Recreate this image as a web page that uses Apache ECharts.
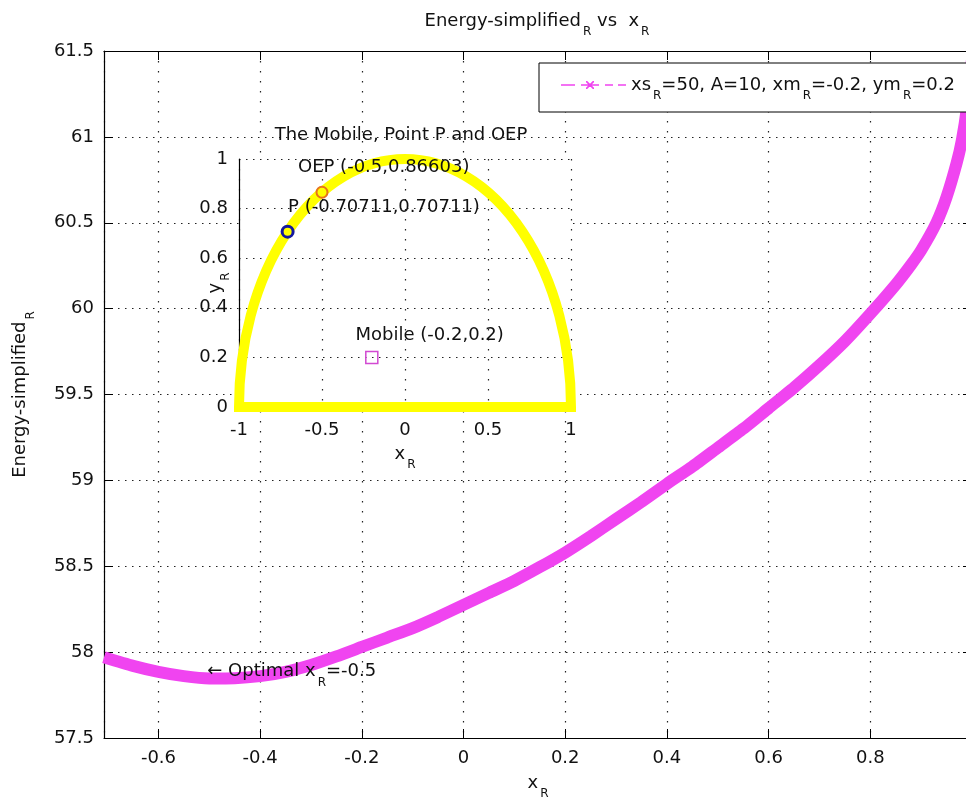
<!DOCTYPE html>
<html>
<head>
<meta charset="utf-8">
<script src="https://cdn.jsdelivr.net/npm/echarts@6/dist/echarts.min.js"></script>
<style>
  html, body { margin: 0; padding: 0; background: #fff; }
  #chart { width: 966px; height: 799px; }
</style>
</head>
<body>
<div id="chart"></div>
<script>
// Simplified energy along the upper half of the unit circle, as a function of x_R
const xR = [-0.7071, -0.65, -0.6, -0.55, -0.5, -0.45, -0.4, -0.35, -0.3, -0.25,
            -0.2, -0.15, -0.1, -0.05, 0, 0.05, 0.1, 0.15, 0.2, 0.25,
            0.3, 0.35, 0.4, 0.45, 0.5, 0.55, 0.6, 0.65, 0.7, 0.75,
            0.8, 0.85, 0.88, 0.9, 0.93, 0.95, 0.97, 0.98, 0.99, 1.0];
const energyR = [57.97, 57.92, 57.885, 57.86, 57.847, 57.848, 57.86, 57.885, 57.925, 57.975,
                 58.03, 58.085, 58.14, 58.205, 58.275, 58.345, 58.415, 58.495, 58.58, 58.675,
                 58.775, 58.875, 58.98, 59.08, 59.19, 59.30, 59.42, 59.54, 59.67, 59.81,
                 59.97, 60.14, 60.255, 60.34, 60.5, 60.65, 60.85, 60.98, 61.17, 61.45];

// Optimum of the curve
const optimalX = -0.5;
const optimalE = 57.847;

// Parameters shown in the legend
const xsR = 50;
const amplitude = 10;

// Inset: the semicircle, the mobile, point P and the OEP
const circleCenter = [0, 0];
const circleRadius = 1;
const pointP = [-0.70711, 0.70711];
const pointOEP = [-0.5, 0.86603];
const mobile = [-0.2, 0.2];

// Axis ranges and tick steps
const xRange = [-0.7071, 1];
const xStep = 0.2;
const yRange = [57.5, 61.5];
const yStep = 0.5;
const insetXRange = [-1, 1];
const insetXStep = 0.5;
const insetYRange = [0, 1];
const insetYStep = 0.2;

const FONT = 'DejaVu Sans';
const INK = '#111';
const MAGENTA = '#f044f0';

const rich = {
  t: { fontFamily: FONT, fontSize: 18, lineHeight: 20, color: INK, fontWeight: 'normal' },
  s: { fontFamily: FONT, fontSize: 12, lineHeight: 12, color: INK, fontWeight: 'normal', padding: [22, 0, 0, 2] }
};

const dotsH = { color: '#222', width: 1.2, type: [1.5, 5.5] };
const dotsV = { color: '#222', width: 1.2, type: [1.5, 8.5] };
const tickStyle = { show: true, inside: true, length: 9, lineStyle: { color: '#000', width: 1 } };
const lineStyleAxis = { show: true, onZero: false, lineStyle: { color: '#000', width: 1.2 } };
const labelStyle = { fontFamily: FONT, fontSize: 18, color: INK, lineHeight: 20 };

// Text placed just right of a marker, shifted by a pixel offset
function markerLabel(text, offset, useRich) {
  const l = {
    show: true, position: 'right', distance: 0, align: 'left', verticalAlign: 'middle',
    offset, formatter: () => text,
    fontFamily: FONT, fontSize: 18, color: INK, opacity: 1,
    textBorderWidth: 0, textBorderColor: 'transparent'
  };
  if (useRich) l.rich = rich;
  return l;
}

const chart = echarts.init(document.getElementById('chart'), null, { renderer: 'canvas' });

const option = {
  backgroundColor: '#fff',
  animation: false,
  title: [
    {
      text: '{t|Energy-simplified}{s|R}{t| vs  x}{s|R}',
      left: 537, top: 11, padding: 0, textAlign: 'center',
      textStyle: { rich, fontWeight: 'normal' }
    },
    {
      text: 'The Mobile, Point P and OEP',
      left: 401, top: 125, padding: 0, textAlign: 'center',
      textStyle: { fontFamily: FONT, fontSize: 18, lineHeight: 20, color: INK, fontWeight: 'normal' }
    }
  ],
  legend: {
    data: ['energy'],
    left: 539, top: 63,
    orient: 'horizontal',
    padding: [5, 16, 10, 22],
    borderColor: '#000', borderWidth: 1, backgroundColor: '#fff',
    itemWidth: 65, itemHeight: 16,
    icon: 'path://M0 7.3L14 7.3L14 8.7L0 8.7Z' +
          'M20 7.3L38 7.3L38 8.7L20 8.7Z' +
          'M25 4L26.2 4L33 10.8L33 12L31.8 12L25 5.2Z' +
          'M33 4L33 5.2L26.2 12L25 12L25 10.8L31.8 4Z' +
          'M44 7.3L52 7.3L52 8.7L44 8.7Z' +
          'M57 7.3L65 7.3L65 8.7L57 8.7Z',
    formatter: () => `{t|xs}{s|R}{t|=${xsR}, A=${amplitude}, xm}{s|R}{t|=${mobile[0]}, ym}{s|R}{t|=${mobile[1]}}`,
    textStyle: { rich },
    selectedMode: false,
    z: 10
  },
  grid: [
    { left: 104, top: 51, width: 868, height: 687, show: false, outerBoundsMode: 'none' },
    { left: 239, top: 159, width: 332, height: 248, show: true, backgroundColor: '#fff',
      borderWidth: 0, borderColor: 'transparent', z: 1, outerBoundsMode: 'none' }
  ],
  xAxis: [
    {
      type: 'value', gridIndex: 0, position: 'bottom',
      min: xRange[0], max: xRange[1], minInterval: xStep, maxInterval: xStep, splitNumber: 8,
      axisLine: lineStyleAxis, axisTick: tickStyle,
      axisLabel: Object.assign({ margin: 10, showMinLabel: false, showMaxLabel: false }, labelStyle),
      splitLine: { show: true, lineStyle: dotsV },
      name: '{t|x}{s|R}', nameLocation: 'middle', nameGap: 35, nameMoveOverlap: false,
      nameTextStyle: { rich }
    },
    {
      type: 'value', gridIndex: 0, position: 'top',
      min: xRange[0], max: xRange[1], minInterval: xStep, maxInterval: xStep, splitNumber: 8,
      axisLine: lineStyleAxis, axisTick: tickStyle,
      axisLabel: { show: false }, splitLine: { show: false }
    },
    {
      type: 'value', gridIndex: 1, position: 'bottom', z: 2,
      min: insetXRange[0], max: insetXRange[1], interval: insetXStep,
      axisLine: { show: false, onZero: false }, axisTick: { show: false },
      axisLabel: Object.assign({ margin: 13 }, labelStyle),
      splitLine: { show: true, lineStyle: dotsV },
      name: '{t|x}{s|R}', nameLocation: 'middle', nameGap: 37, nameMoveOverlap: false,
      nameTextStyle: { rich }
    }
  ],
  yAxis: [
    {
      type: 'value', gridIndex: 0, position: 'left',
      min: yRange[0], max: yRange[1], interval: yStep,
      axisLine: lineStyleAxis, axisTick: tickStyle,
      axisLabel: Object.assign({ margin: 10 }, labelStyle),
      splitLine: { show: true, lineStyle: dotsH },
      name: '{t|Energy-simplified}{s|R}', nameLocation: 'middle', nameGap: 74, nameMoveOverlap: false,
      nameTextStyle: { rich }
    },
    {
      type: 'value', gridIndex: 0, position: 'right',
      min: yRange[0], max: yRange[1], interval: yStep,
      axisLine: lineStyleAxis, axisTick: tickStyle,
      axisLabel: { show: false }, splitLine: { show: false }
    },
    {
      type: 'value', gridIndex: 1, position: 'left', z: 2,
      min: insetYRange[0], max: insetYRange[1], interval: insetYStep,
      axisLine: lineStyleAxis, axisTick: { show: false },
      axisLabel: Object.assign({ margin: 11 }, labelStyle),
      splitLine: { show: true, lineStyle: dotsH },
      name: '{t|y}{s|R}', nameLocation: 'middle', nameGap: 14, nameMoveOverlap: false,
      nameTextStyle: { rich }
    }
  ],
  series: [
    {
      name: 'energy',
      type: 'line',
      xAxisIndex: 0, yAxisIndex: 0,
      data: xR.map((x, i) => [x, energyR[i]]),
      smooth: 0.2,
      symbol: 'none',
      clip: false,
      color: MAGENTA,
      lineStyle: { color: MAGENTA, width: 12 },
      z: 3
    },
    {
      name: 'optimum',
      type: 'scatter',
      xAxisIndex: 0, yAxisIndex: 0,
      data: [[optimalX, optimalE]],
      symbolSize: 1,
      itemStyle: { color: 'transparent' },
      label: markerLabel(`{t|← Optimal x}{s|R}{t|=${optimalX}}`, [-2.5, -7], true),
      silent: true, z: 5
    },
    {
      name: 'semicircle',
      type: 'custom',
      xAxisIndex: 2, yAxisIndex: 2,
      data: [[circleCenter[0], circleCenter[1], circleRadius]],
      renderItem: (params, api) => {
        const c = api.coord([api.value(0), api.value(1)]);
        const sz = api.size([api.value(2), api.value(2)]);
        const rx = sz[0], ry = sz[1];
        const d = `M${c[0] - rx} ${c[1]} A${rx} ${ry} 0 0 1 ${c[0] + rx} ${c[1]} Z`;
        return {
          type: 'path',
          shape: { pathData: d, x: c[0] - rx, y: c[1] - ry, width: 2 * rx, height: ry, layout: 'cover' },
          style: { fill: 'none', stroke: '#ffff00', lineWidth: 10, lineJoin: 'miter' }
        };
      },
      silent: true, z: 3
    },
    {
      name: 'P',
      type: 'scatter', xAxisIndex: 2, yAxisIndex: 2,
      data: [pointP],
      symbol: 'circle', symbolSize: 11,
      itemStyle: { color: 'transparent', borderColor: '#14189e', borderWidth: 3, opacity: 1 },
      label: markerLabel(`P (${pointP[0]},${pointP[1]})`, [-6.5, -24], false),
      silent: true, z: 5
    },
    {
      name: 'OEP',
      type: 'scatter', xAxisIndex: 2, yAxisIndex: 2,
      data: [pointOEP],
      symbol: 'circle', symbolSize: 11,
      itemStyle: { color: 'transparent', borderColor: '#e8741a', borderWidth: 2, opacity: 1 },
      label: markerLabel(`OEP (${pointOEP[0]},${pointOEP[1]})`, [-30.5, -25], false),
      silent: true, z: 5
    },
    {
      name: 'Mobile',
      type: 'scatter', xAxisIndex: 2, yAxisIndex: 2,
      data: [mobile],
      symbol: 'rect', symbolSize: 12,
      itemStyle: { color: 'transparent', borderColor: '#d24ad2', borderWidth: 1.5, opacity: 1 },
      label: markerLabel(`Mobile (${mobile[0]},${mobile[1]})`, [-23, -22], false),
      silent: true, z: 5
    }
  ]
};

chart.setOption(option);
</script>
</body>
</html>
